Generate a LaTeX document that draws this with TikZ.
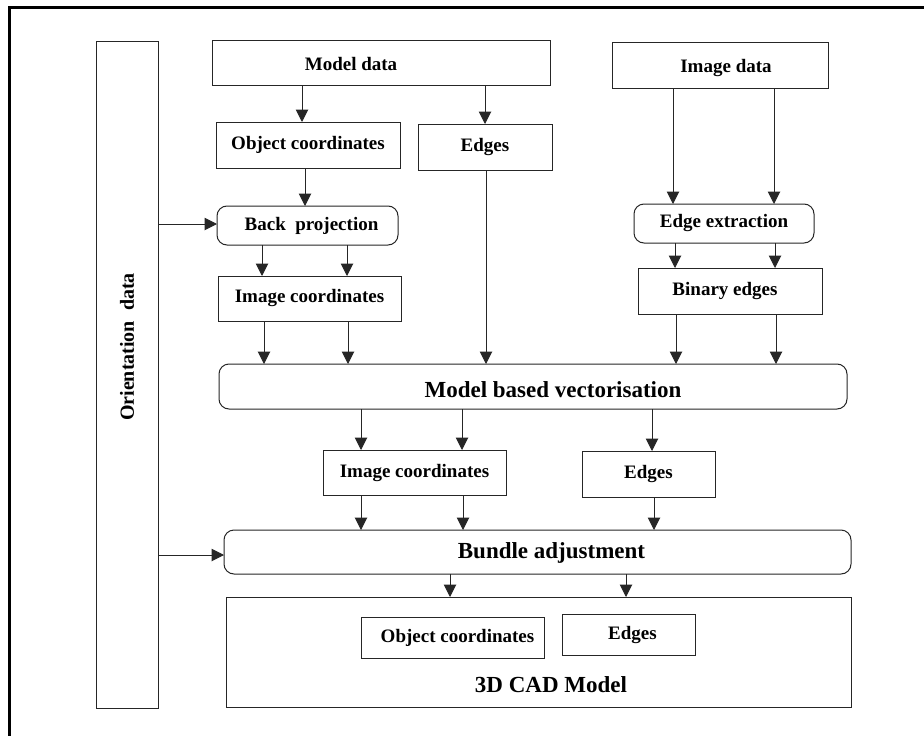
\documentclass[tikz,border=0pt]{standalone}
\usepackage{fontspec}
\setmainfont{Liberation Serif}
\usetikzlibrary{arrows.meta}
\begin{document}
\begin{tikzpicture}[x=1pt,y=-1pt,
  every node/.style={inner sep=0pt, outer sep=0pt},
  box/.style={draw=black!85, line width=1pt, rectangle},
  rbox/.style={box, rounded corners=10pt},
  sm/.style={font=\fontsize{19pt}{22pt}\selectfont\bfseries},
  lg/.style={font=\fontsize{23pt}{26pt}\selectfont\bfseries},
  arr/.style={draw=black!85, line width=1pt, -{Triangle[length=12.5pt,width=12.5pt]}}
]
\useasboundingbox (0,0) rectangle (924,736);
\fill[white] (0,0) rectangle (924,736);
% frame
\draw[line width=2.7pt, line cap=rect] (9.7,736) -- (9.7,7.3) -- (924,7.3);

% boxes
\node[box, minimum width=62pt, minimum height=667pt] (orient) at (127,374.5) {};
\node[sm, font=\fontsize{20pt}{22pt}\selectfont\bfseries, rotate=90] (orienttxt) at (127,347) {Orientation~~data};

\node[box, minimum width=338pt, minimum height=45pt, label={[sm,xshift=-30pt,yshift=-2pt]center:Model data}] (model) at (381,62.5) {};
\node[box, sm, minimum width=184pt, minimum height=46pt] (objc) at (308,145) {Object coordinates};
\node[box, sm, minimum width=134pt, minimum height=46pt] (edges1) at (485,147) {Edges};
\node[rbox, minimum width=181pt, minimum height=39pt, label={[sm,xshift=4pt]center:Back~~projection}] (backp) at (307.5,225.5) {};
\node[box, sm, minimum width=183pt, minimum height=45pt] (imgc1) at (309.5,298.5) {Image coordinates};

\node[box, minimum width=216pt, minimum height=46pt, label={[sm,xshift=6pt,yshift=-3pt]center:Image data}] (imgd) at (720,65) {};
\node[rbox, sm, minimum width=180pt, minimum height=39pt] (edgex) at (724,223.5) {Edge extraction};
\node[box, minimum width=184pt, minimum height=46pt, label={[sm,xshift=-5pt]center:Binary edges}] (binary) at (730,291) {};

\node[rbox, minimum width=628pt, minimum height=45pt, label={[lg,xshift=20pt,yshift=-3pt]center:Model based vectorisation}] (mbv) at (533,386.5) {};

\node[box, sm, minimum width=183pt, minimum height=45pt] (imgc2) at (414.5,472.5) {Image coordinates};
\node[box, sm, minimum width=133pt, minimum height=46pt] (edges2) at (648.5,474) {Edges};

\node[rbox, minimum width=627pt, minimum height=44pt, label={[lg,xshift=14pt,yshift=-1pt]center:Bundle adjustment}] (ba) at (537.5,552) {};

\node[box, minimum width=625pt, minimum height=110pt] (cad) at (538.5,652) {};
\node[lg] (cadtxt) at (551,685) {3D CAD Model};
\node[box, minimum width=183pt, minimum height=41pt, label={[sm,xshift=5pt]center:Object coordinates}] (objc3) at (452.5,637.5) {};
\node[box, minimum width=133pt, minimum height=41pt, label={[sm,xshift=4pt]center:Edges}] (edges3) at (628.5,634.5) {};

% arrows
\draw[arr] (302,0 |- model.south) -- (302,0 |- objc.north);
\draw[arr] (485,0 |- model.south) -- (485,0 |- edges1.north);
\draw[arr] (305,0 |- objc.south) -- (305,0 |- backp.north);
\draw[arr] (orient.east |- 0,224) -- (backp.west |- 0,224);
\draw[arr] (262,0 |- backp.south) -- (262,0 |- imgc1.north);
\draw[arr] (347,0 |- backp.south) -- (347,0 |- imgc1.north);
\draw[arr] (264,0 |- imgc1.south) -- (264,0 |- mbv.north);
\draw[arr] (348,0 |- imgc1.south) -- (348,0 |- mbv.north);
\draw[arr] (486,0 |- edges1.south) -- (486,0 |- mbv.north);

\draw[arr] (673,0 |- imgd.south) -- (673,0 |- edgex.north);
\draw[arr] (774,0 |- imgd.south) -- (774,0 |- edgex.north);
\draw[arr] (675,0 |- edgex.south) -- (675,0 |- binary.north);
\draw[arr] (775,0 |- edgex.south) -- (775,0 |- binary.north);
\draw[arr] (676,0 |- binary.south) -- (676,0 |- mbv.north);
\draw[arr] (776,0 |- binary.south) -- (776,0 |- mbv.north);

\draw[arr] (361,0 |- mbv.south) -- (361,0 |- imgc2.north);
\draw[arr] (462,0 |- mbv.south) -- (462,0 |- imgc2.north);
\draw[arr] (652,0 |- mbv.south) -- (652,0 |- edges2.north);

\draw[arr] (361,0 |- imgc2.south) -- (361,0 |- ba.north);
\draw[arr] (463,0 |- imgc2.south) -- (463,0 |- ba.north);
\draw[arr] (654,0 |- edges2.south) -- (654,0 |- ba.north);
\draw[arr] (orient.east |- 0,555) -- (ba.west |- 0,555);

\draw[arr] (450,0 |- ba.south) -- (450,0 |- cad.north);
\draw[arr] (626,0 |- ba.south) -- (626,0 |- cad.north);
\end{tikzpicture}
\end{document}
